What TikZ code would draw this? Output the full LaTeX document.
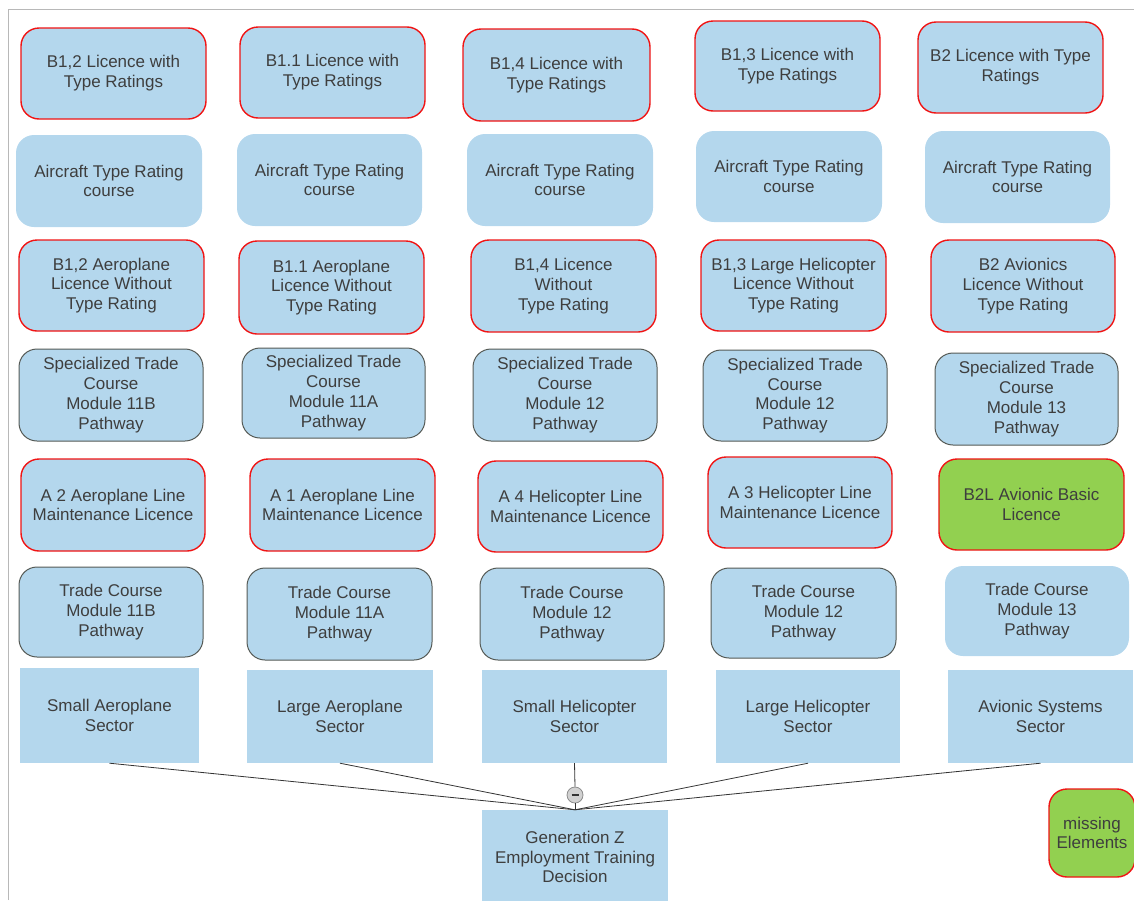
\documentclass[tikz,border=0pt]{standalone}
\usepackage{fontspec}
\setmainfont{Liberation Sans}
\definecolor{boxblue}{RGB}{180,215,237}
\definecolor{boxgreen}{RGB}{146,208,80}
\definecolor{txtgray}{RGB}{62,62,62}
\definecolor{redline}{RGB}{240,20,20}
\definecolor{darkline}{RGB}{85,90,85}
\newcommand{\bx}[7]{%
  \node[#2, minimum width={(#5-#3)*1pt}, minimum height={(#6-#4)*1pt}] (#1) at ({(#3+#5)/2},{(#4+#6)/2}) {#7};}
\begin{document}
\begin{tikzpicture}[x=1pt,y=-1pt,
  base/.style={rectangle, fill=boxblue, inner sep=0pt, align=center, text=txtgray,
    font=\fontsize{17}{19.8}\selectfont},
  plainbox/.style={base, rounded corners=18pt},
  redbox/.style={base, rounded corners=18pt, draw=redline, line width=1.4pt},
  graybox/.style={base, rounded corners=18pt, draw=darkline, line width=1pt},
  greenbox/.style={redbox, fill=boxgreen},
  sector/.style={base},
  conn/.style={draw=black!80, line width=0.8pt},
  frame/.style={draw=black!28, line width=0.8pt}]
\useasboundingbox (0,0) rectangle (1134,900);
\draw[frame] (8,900) -- (8,9) -- (1134,9);
% row 1
\bx{a1}{redbox}{21}{28}{206}{119}{B1,2 Licence with\\Type Ratings}
\bx{a2}{redbox}{240}{27}{425}{118}{B1.1 Licence with\\Type Ratings}
\bx{a3}{redbox}{463}{29}{650}{121}{B1,4 Licence with\\Type Ratings}
\bx{a4}{redbox}{695}{21}{880}{111}{B1,3 Licence with\\Type Ratings}
\bx{a5}{redbox}{918}{22}{1103}{113}{B2 Licence with Type\\Ratings}
% row 2
\bx{b1}{plainbox}{16}{135}{202}{227}{Aircraft Type Rating\\course}
\bx{b2}{plainbox}{237}{134}{422}{226}{Aircraft Type Rating\\course}
\bx{b3}{plainbox}{467}{134}{653}{226}{Aircraft Type Rating\\course}
\bx{b4}{plainbox}{696}{131}{882}{222}{Aircraft Type Rating\\course}
\bx{b5}{plainbox}{925}{131}{1110}{223}{Aircraft Type Rating\\course}
% row 3
\bx{c1}{redbox}{19}{240}{204}{331}{B1,2 Aeroplane\\Licence Without\\Type Rating}
\bx{c2}{redbox}{239}{241}{424}{334}{B1.1 Aeroplane\\Licence Without\\Type Rating}
\bx{c3}{redbox}{471}{240}{656}{332}{B1,4 Licence\\Without\\Type Rating}
\bx{c4}{redbox}{701}{240}{886}{331}{B1,3 Large Helicopter\\Licence Without\\Type Rating}
\bx{c5}{redbox}{931}{240}{1115}{332}{B2 Avionics\\Licence Without\\Type Rating}
% row 4
\bx{d1}{graybox}{19}{349}{203}{441}{Specialized Trade\\Course\\Module 11B\\Pathway}
\bx{d2}{graybox}{242}{348}{425}{438}{Specialized Trade\\Course\\Module 11A\\Pathway}
\bx{d3}{graybox}{473}{349}{657}{441}{Specialized Trade\\Course\\Module 12\\Pathway}
\bx{d4}{graybox}{703}{350}{887}{441}{Specialized Trade\\Course\\Module 12\\Pathway}
\bx{d5}{graybox}{935}{353}{1118}{445}{Specialized Trade\\Course\\Module 13\\Pathway}
% row 5
\bx{e1}{redbox}{21}{459}{205}{551}{A 2 Aeroplane Line\\Maintenance Licence}
\bx{e2}{redbox}{250}{459}{435}{551}{A 1 Aeroplane Line\\Maintenance Licence}
\bx{e3}{redbox}{478}{461}{663}{552}{A 4 Helicopter Line\\Maintenance Licence}
\bx{e4}{redbox}{708}{457}{892}{548}{A 3 Helicopter Line\\Maintenance Licence}
\bx{e5}{greenbox}{939}{459}{1124}{550}{B2L Avionic Basic\\Licence}
% row 6
\bx{f1}{graybox}{19}{567}{203}{657}{Trade Course\\Module 11B\\Pathway}
\bx{f2}{graybox}{247}{568}{432}{660}{Trade Course\\Module 11A\\Pathway}
\bx{f3}{graybox}{480}{568}{664}{660}{Trade Course\\Module 12\\Pathway}
\bx{f4}{graybox}{711}{568}{896}{658}{Trade Course\\Module 12\\Pathway}
\bx{f5}{plainbox}{945}{566}{1129}{656}{Trade Course\\Module 13\\Pathway}
% row 7
\bx{g1}{sector}{20}{668}{199}{763}{Small Aeroplane\\Sector}
\bx{g2}{sector}{247}{670}{433}{763}{Large Aeroplane\\Sector}
\bx{g3}{sector}{482}{670}{667}{763}{Small Helicopter\\Sector}
\bx{g4}{sector}{716}{670}{900}{763}{Large Helicopter\\Sector}
\bx{g5}{sector}{948}{670}{1133}{763}{Avionic Systems\\Sector}
% bottom
\bx{gz}{sector}{482}{810}{668}{904}{Generation Z\\Employment Training\\Decision}
\bx{me}{greenbox}{1049}{789}{1135}{877}{missing\\Elements}
\node[circle, draw=black!45, fill=black!18, minimum size=16pt, inner sep=0pt, line width=0.8pt] (jn) at (575,795) {};
\draw[line width=2pt, black!80] ([xshift=-3.5pt]jn.center) -- ([xshift=3.5pt]jn.center);
% connectors
\draw[conn] (g1.south) -- (gz.north);
\draw[conn] (g2.south) -- (gz.north);
\draw[conn] (g4.south) -- (gz.north);
\draw[conn] (g5.south) -- (gz.north);
\draw[conn] (g3.south) -- (jn.north);
\draw[conn] (jn.south) -- (gz.north);
\end{tikzpicture}
\end{document}
